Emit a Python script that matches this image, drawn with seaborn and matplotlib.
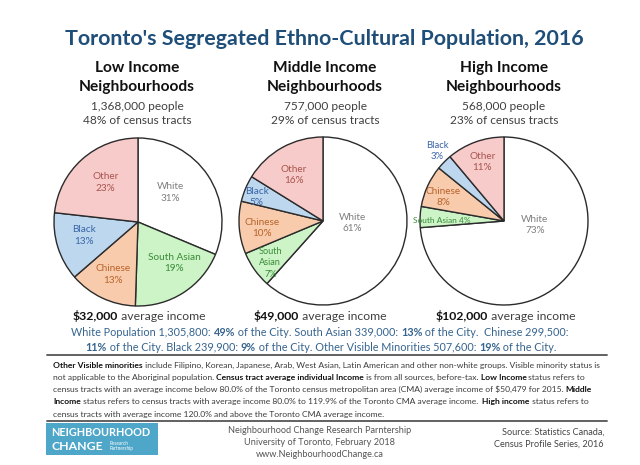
import numpy as np
import pandas as pd
import matplotlib
matplotlib.use("Agg")
import matplotlib.pyplot as plt
import seaborn as sns
from matplotlib.patches import Rectangle

# ---------------- data ----------------
groups = ["White", "South Asian", "Chinese", "Black", "Other"]
low_pct = [31, 19, 13, 13, 23]
mid_pct = [61, 7, 10, 5, 16]
high_pct = [73, 4, 8, 3, 11]

panel_titles = ["Low Income", "Middle Income", "High Income"]
people = ["1,368,000", "757,000", "568,000"]
tracts = ["48%", "29%", "23%"]
avg_income = ["$32,000", "$49,000", "$102,000"]

city_line1 = [("White Population 1,305,800: ", False), ("49%", True), (" of the City. South Asian 339,000: ", False),
              ("13%", True), (" of the City.  Chinese 299,500:", False)]
city_line2 = [("11%", True), (" of the City. Black 239,900: ", False), ("9%", True),
              (" of the City. Other Visible Minorities 507,600: ", False), ("19%", True), (" of the City.", False)]

notes = [
    [("Other Visible minorities", True), (" include Filipino, Korean, Japanese, Arab, West Asian, Latin American and other non-white groups. Visible minority status is", False)],
    [("not applicable to the Aboriginal population. ", False), ("Census tract average individual Income", True),
     (" is from all sources, before-tax. ", False), ("Low Income", True), (" status refers to", False)],
    [("census tracts with an average income below 80.0% of the Toronto census metropolitan area (CMA) average income of \\$50,479 for 2015. ", False),
     ("Middle", True)],
    [("Income", True), (" status refers to census tracts with average income 80.0% to 119.9% of the Toronto CMA average income.  ", False),
     ("High income", True), (" status refers to", False)],
    [("census tracts with average income 120.0% and above the Toronto CMA average income.", False)],
]

df = pd.DataFrame({"group": groups, "Low": low_pct, "Middle": mid_pct, "High": high_pct})

# ---------------- style ----------------
sns.set_theme(style="white")
FONT = "Lato"
plt.rcParams["font.family"] = [FONT, "DejaVu Sans"]

wedge_colors = sns.color_palette(["#ffffff", "#ccf4c6", "#f8cbad", "#bdd7ee", "#f8cbcb"])
label_colors = ["#7f7f7f", "#3a8a3a", "#b8642a", "#3a65a8", "#a8554e"]

W, H = 640, 465
fig = plt.figure(figsize=(W / 100, H / 100), dpi=100)
fig.patch.set_facecolor("white")

bg = fig.add_axes([0, 0, 1, 1])
bg.set_xlim(0, W)
bg.set_ylim(H, 0)
bg.axis("off")

renderer = fig.canvas.get_renderer()


def rich(ax, x, y, parts, ha="center", size=9, color="#333333", bold_color=None, weight_b="bold"):
    texts = []
    widths = []
    for s, b in parts:
        t = ax.text(0, y, s, ha="left", va="center", fontsize=size,
                    color=(bold_color or color) if b else color,
                    fontweight=weight_b if b else "normal")
        bb = t.get_window_extent(renderer=renderer)
        texts.append(t)
        widths.append(bb.width * W / fig.bbox.width)
    total = sum(widths)
    if ha == "center":
        x0 = x - total / 2
    elif ha == "right":
        x0 = x - total
    else:
        x0 = x
    for t, w in zip(texts, widths):
        t.set_x(x0)
        x0 += w


# ---------------- title ----------------
bg.text(324, 39, "Toronto's Segregated Ethno-Cultural Population, 2016", ha="center", va="center",
        fontsize=15.4, fontweight="bold", color="#1f4e79")

# ---------------- pies ----------------
centers = [(138, 222), (323, 221), (504, 221)]
head_x = [137, 325, 504]
inc_x = [139, 320, 506]
R = 84
label_r = [[0.52, 0.65, 0.69, 0.66, 0.61],
           [0.35, 0.80, 0.73, 0.84, 0.65],
           [0.37, 0.74, 0.78, 1.15, 0.75]]
label_da = [[9, 9, 0, -3, -2],
            [17, 3, 2, 3, 3],
            [35, 2, 3, -2, 0]]
label_text = [["White\n{}%", "South Asian\n{}%", "Chinese\n{}%", "Black\n{}%", "Other\n{}%"],
              ["White\n{}%", "South\nAsian\n{}%", "Chinese\n{}%", "Black\n{}%", "Other\n{}%"],
              ["White\n{}%", "South Asian {}%", "Chinese\n{}%", "Black\n{}%", "Other\n{}%"]]
label_size = [[7.2] * 5, [7.2, 6.6, 7.2, 7.2, 7.2], [7.2, 6.0, 7.2, 6.8, 7.2]]

for i, col in enumerate(["Low", "Middle", "High"]):
    cx, cy = centers[i]
    half = 1.3 * R
    ax = fig.add_axes([(cx - half) / W, (H - cy - half) / H, 2 * half / W, 2 * half / H])
    ax.set_facecolor("none")
    vals = df[col].values
    wedges, _ = ax.pie(vals, colors=wedge_colors, startangle=90, counterclock=False,
                       radius=1.0, wedgeprops=dict(edgecolor="#2b2b2b", linewidth=1.0))
    ax.set_xlim(-1.3, 1.3)
    ax.set_ylim(-1.3, 1.3)
    ax.set_aspect("equal")
    ax.axis("off")
    for j, w in enumerate(wedges):
        ang = np.deg2rad((w.theta1 + w.theta2) / 2 + label_da[i][j])
        r = label_r[i][j]
        ax.text(r * np.cos(ang), r * np.sin(ang), label_text[i][j].format(vals[j]),
                ha="center", va="center", fontsize=label_size[i][j], color=label_colors[j],
                linespacing=1.35)

    # headings
    bg.text(head_x[i], 68, panel_titles[i], ha="center", va="center", fontsize=11.2,
            fontweight="bold", color="#111111")
    bg.text(head_x[i], 87, "Neighbourhoods", ha="center", va="center", fontsize=11.2,
            fontweight="bold", color="#111111")
    bg.text(head_x[i], 106, f"{people[i]} people", ha="center", va="center", fontsize=8.6, color="#404040")
    bg.text(head_x[i], 120, f"{tracts[i]} of census tracts", ha="center", va="center", fontsize=8.6,
            color="#404040")
    rich(bg, inc_x[i], 316, [(avg_income[i].replace("$", "\\$"), True), (" average income", False)],
         size=8.8, color="#404040", bold_color="#111111")

# ---------------- city totals ----------------
rich(bg, 320, 332, city_line1, size=7.8, color="#36648f")
rich(bg, 321, 347, city_line2, size=7.8, color="#36648f")

bg.plot([47, 607], [355, 355], color="#555555", lw=1.3)
for k, line in enumerate(notes):
    rich(bg, 53, 365 + k * 12.3, line, ha="left", size=6.1, color="#3a3a3a", bold_color="#111111")
bg.plot([47, 607], [421, 421], color="#555555", lw=1.3)

# ---------------- footer ----------------
bg.add_patch(Rectangle((46, 423), 112, 32, facecolor="#4ea6c8", edgecolor="none"))
bg.text(51, 432, "NEIGHBOURHOOD", ha="left", va="center", fontsize=7.8, fontweight="bold", color="white")
bg.text(51, 446, "CHANGE", ha="left", va="center", fontsize=8.8, fontweight="bold", color="white")
bg.text(110, 446, "Research\nPartnership", ha="left", va="center", fontsize=3.4, color="white", linespacing=1.0)

for k, s in enumerate(["Neighbourhood Change Research Parntership", "University of Toronto, February 2018",
                       "www.NeighbourhoodChange.ca"]):
    bg.text(320, 430 + k * 12.3, s, ha="center", va="center", fontsize=6.6, color="#555555")
bg.text(604, 432, "Source: Statistics Canada,", ha="right", va="center", fontsize=6.6, color="#444444")
bg.text(604, 444, "Census Profile Series, 2016", ha="right", va="center", fontsize=6.6, color="#444444")

fig.savefig("out.png", dpi=100, facecolor=fig.get_facecolor())
